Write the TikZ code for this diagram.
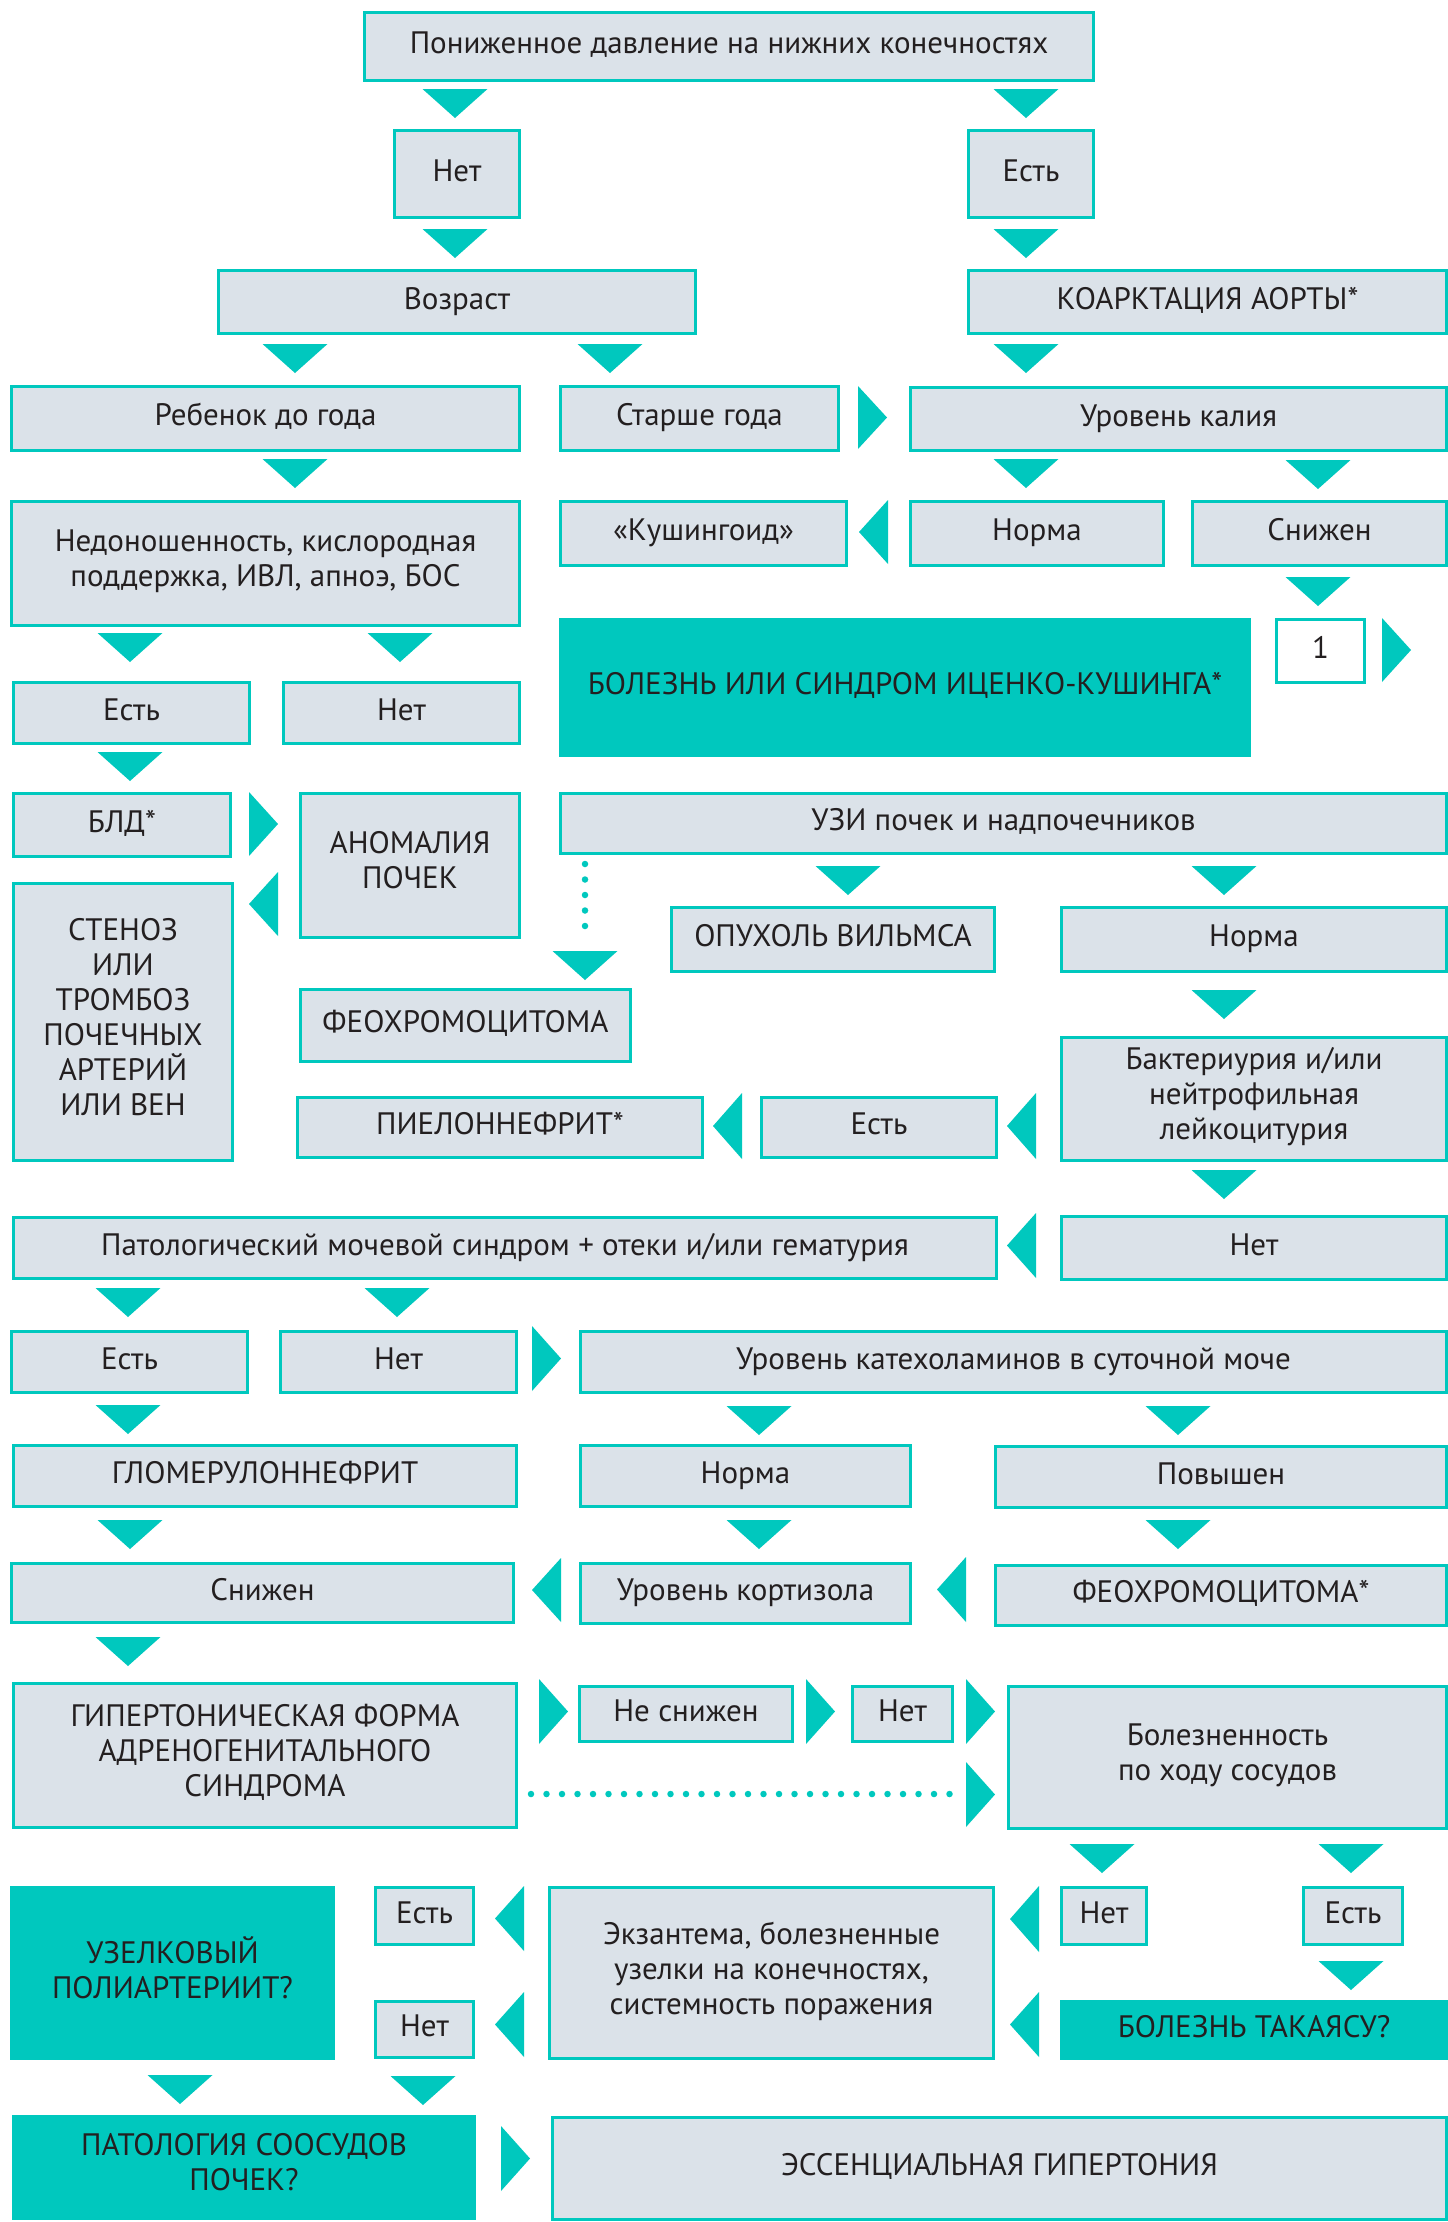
\documentclass[tikz,border=0pt]{standalone}
\usepackage{fontspec}
\setmainfont{PT Sans}
\definecolor{tl}{RGB}{0,200,190}
\definecolor{bg}{RGB}{219,226,233}
\definecolor{tx}{RGB}{35,31,32}
\newcommand\mybox[7]{\node[#1, anchor=north west, minimum width={(#4-#2)*1pt}, minimum height={(#5-#3)*1pt}] (#6) at (#2,#3) {#7};}
\newcommand\dtri[2]{\fill[tl] (#1-32.5,#2) -- (#1+32.5,#2) -- (#1,#2+29) -- cycle;}
\newcommand\rtri[3]{\fill[tl] (#1,#2) -- (#1+29,#2+#3/2) -- (#1,#2+#3) -- cycle;}
\newcommand\ltri[3]{\fill[tl] (#1+29,#2) -- (#1,#2+#3/2) -- (#1+29,#2+#3) -- cycle;}
\begin{document}
\begin{tikzpicture}[x=1pt,y=-1pt,
  box/.style={draw=tl, fill=bg, line width=3pt, inner sep=0pt, align=center, text=tx,
    font=\fontsize{31}{35}\selectfont, execute at begin node=\strut, execute at end node=\strut},
  tbox/.style={box, fill=tl},
  wbox/.style={box, fill=white},
  dotline/.style={draw=tl, line width=6.5pt, line cap=round, dash pattern=on 0pt off 15.5pt}]
\fill[white] (0,0) rectangle (1448,2222);
\useasboundingbox (0,0) rectangle (1448,2222);

% boxes
\mybox{box}{363}{11}{1092}{79}{top}{Пониженное давление на нижних конечностях}
\mybox{box}{393}{129}{518}{216}{net1}{Нет}
\mybox{box}{967}{129}{1092}{216}{est1}{Есть}
\mybox{box}{217}{269}{694}{332}{vozrast}{Возраст}
\mybox{box}{967}{269}{1445}{332}{koarkt}{КОАРКТАЦИЯ АОРТЫ*}
\mybox{box}{10}{385}{518}{449}{rebenok}{Ребенок до года}
\mybox{box}{559}{385}{837}{449}{starshe}{Старше года}
\mybox{box}{909}{386}{1445}{449}{kalii}{Уровень калия}
\mybox{box}{10}{500}{518}{624}{nedon}{Недоношенность, кислородная\\поддержка, ИВЛ, апноэ, БОС}
\mybox{box}{559}{500}{845}{564}{kushingoid}{«Кушингоид»}
\mybox{box}{909}{500}{1162}{564}{norma1}{Норма}
\mybox{box}{1191}{500}{1445}{564}{snizhen1}{Снижен}
\mybox{box}{12}{681}{248}{742}{est2}{Есть}
\mybox{box}{282}{681}{518}{742}{net2}{Нет}
\mybox{tbox}{559}{618}{1248}{754}{ick}{БОЛЕЗНЬ ИЛИ СИНДРОМ ИЦЕНКО-КУШИНГА*}
\mybox{wbox}{1275}{618}{1363}{681}{one}{1}
\mybox{box}{12}{792}{229}{855}{bld}{БЛД*}
\mybox{box}{299}{792}{518}{936}{anomal}{АНОМАЛИЯ\\ПОЧЕК}
\mybox{box}{559}{792}{1445}{852}{uzi}{УЗИ почек и надпочечников}
\mybox{box}{12}{882}{231}{1159}{stenoz}{СТЕНОЗ\\ИЛИ\\ТРОМБОЗ\\ПОЧЕЧНЫХ\\АРТЕРИЙ\\ИЛИ ВЕН}
\mybox{box}{670}{906}{993}{970}{opuhol}{ОПУХОЛЬ ВИЛЬМСА}
\mybox{box}{1060}{906}{1445}{970}{norma2}{Норма}
\mybox{box}{299}{988}{629}{1060}{feo1}{ФЕОХРОМОЦИТОМА}
\mybox{box}{1060}{1036}{1445}{1159}{bakt}{Бактериурия и/или\\нейтрофильная\\лейкоцитурия}
\mybox{box}{296}{1096}{701}{1156}{pielo}{ПИЕЛОННЕФРИТ*}
\mybox{box}{760}{1096}{995}{1156}{est3}{Есть}
\mybox{box}{12}{1216}{995}{1277}{patol}{Патологический мочевой синдром + отеки и/или гематурия}
\mybox{box}{1060}{1215}{1445}{1278}{net3}{Нет}
\mybox{box}{10}{1330}{246}{1391}{est4}{Есть}
\mybox{box}{279}{1330}{515}{1391}{net4}{Нет}
\mybox{box}{579}{1330}{1445}{1391}{katehol}{Уровень катехоламинов в суточной моче}
\mybox{box}{12}{1444}{515}{1505}{glom}{ГЛОМЕРУЛОННЕФРИТ}
\mybox{box}{579}{1444}{909}{1505}{norma3}{Норма}
\mybox{box}{994}{1445}{1445}{1506}{povysh}{Повышен}
\mybox{box}{10}{1562}{512}{1621}{snizhen2}{Снижен}
\mybox{box}{579}{1562}{909}{1622}{kortizol}{Уровень кортизола}
\mybox{box}{994}{1564}{1445}{1624}{feo2}{ФЕОХРОМОЦИТОМА*}
\mybox{box}{12}{1682}{515}{1826}{giper}{ГИПЕРТОНИЧЕСКАЯ ФОРМА\\АДРЕНОГЕНИТАЛЬНОГО\\СИНДРОМА}
\mybox{box}{578}{1685}{791}{1740}{nesnizh}{Не снижен}
\mybox{box}{851}{1685}{951}{1740}{net5}{Нет}
\mybox{box}{1007}{1685}{1445}{1827}{bolezn}{Болезненность\\по ходу сосудов}
\mybox{tbox}{10}{1886}{332}{2057}{uzelk}{УЗЕЛКОВЫЙ\\ПОЛИАРТЕРИИТ?}
\mybox{box}{374}{1886}{472}{1943}{est5}{Есть}
\mybox{box}{374}{2000}{472}{2056}{net6}{Нет}
\mybox{box}{548}{1886}{992}{2057}{ekzant}{Экзантема, болезненные\\узелки на конечностях,\\системность поражения}
\mybox{box}{1060}{1886}{1145}{1943}{net7}{Нет}
\mybox{box}{1302}{1886}{1401}{1943}{est6}{Есть}
\mybox{tbox}{1060}{2000}{1445}{2057}{takayasu}{БОЛЕЗНЬ ТАКАЯСУ?}
\mybox{tbox}{12}{2115}{473}{2217}{patsos}{ПАТОЛОГИЯ СООСУДОВ\\ПОЧЕК?}
\mybox{box}{551}{2116}{1445}{2218}{essent}{ЭССЕНЦИАЛЬНАЯ ГИПЕРТОНИЯ}

% down triangles
\dtri{455}{89}
\dtri{1026}{89}
\dtri{455}{229}
\dtri{1026}{229}
\dtri{295}{344}
\dtri{610}{344}
\dtri{1026}{344}
\dtri{295}{459}
\dtri{1026}{459}
\dtri{1318}{460}
\dtri{130}{633}
\dtri{400}{633}
\dtri{1318}{577}
\dtri{130}{752}
\dtri{848}{866}
\dtri{1224}{866}
\dtri{585}{951}
\dtri{1224}{990}
\dtri{1224}{1170}
\dtri{128}{1288}
\dtri{397}{1288}
\dtri{128}{1405}
\dtri{759}{1406}
\dtri{1178}{1406}
\dtri{130}{1520}
\dtri{759}{1520}
\dtri{1178}{1520}
\dtri{128}{1637}
\dtri{1102}{1844}
\dtri{1351}{1844}
\dtri{1351}{1961}
\dtri{180}{2075}
\dtri{423}{2076}

% right triangles
\rtri{858}{386}{63}
\rtri{249}{792}{64}
\rtri{1382}{618}{64}
\rtri{532}{1326}{65}
\rtri{539}{1679}{65}
\rtri{806}{1679}{65}
\rtri{966}{1679}{65}
\rtri{966}{1762}{65}
\rtri{501}{2126}{65}

% left triangles
\ltri{859}{500}{64}
\ltri{249}{872}{64}
\ltri{1007}{1093}{66}
\ltri{713}{1093}{66}
\ltri{1007}{1213}{65}
\ltri{532}{1558}{64}
\ltri{937}{1557}{65}
\ltri{495}{1886}{65}
\ltri{495}{1992}{65}
\ltri{1010}{1886}{66}
\ltri{1010}{1992}{65}

% dotted connectors
\coordinate (dA) at (585,864);
\coordinate (dB) at (585,941);
\draw[dotline] (dA) -- (dB);
\coordinate (dC) at (531,1794);
\coordinate (dD) at (956,1794);
\draw[dotline] (dC) -- (dD);
\end{tikzpicture}
\end{document}
